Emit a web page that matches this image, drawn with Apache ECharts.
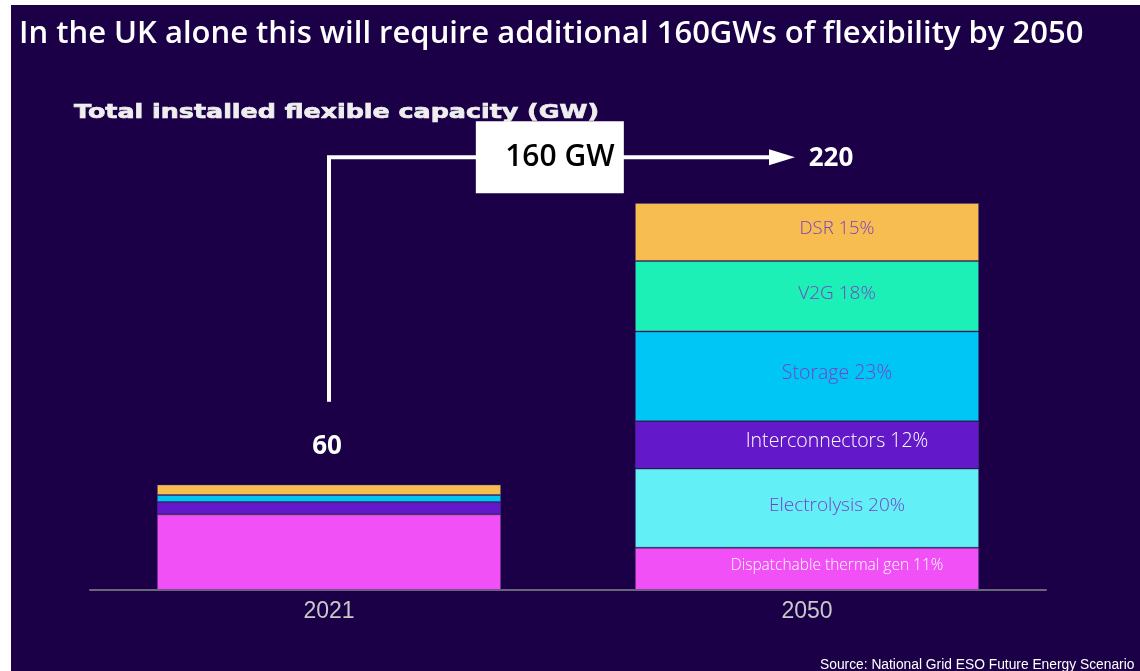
<!DOCTYPE html>
<html>
<head>
<meta charset="utf-8">
<style>
  html, body { margin: 0; padding: 0; background: #ffffff; }
  #chart { width: 1140px; height: 671px; }
</style>
<script src="https://cdn.jsdelivr.net/npm/echarts@6/dist/echarts.min.js"></script>
</head>
<body>
<div id="chart"></div>
<script>
// Flexible capacity in GW by year, stacked by source
const years = ['2021', '2050'];
const sources = ['Dispatchable thermal gen', 'Electrolysis', 'Interconnectors', 'Storage', 'V2G', 'DSR'];
const dispatchable = [43, 24];
const electrolysis = [0, 45];
const interconnectors = [7, 27];
const storage = [4, 51];
const v2g = [0, 40];
const dsr = [6, 33];
const additionalGW = 160;

const seriesValues = [dispatchable, electrolysis, interconnectors, storage, v2g, dsr];
const colors = ['#f050f5', '#62f0f6', '#6319c9', '#00c6f5', '#1cf0b6', '#f7bd50'];
const labelColors = ['#ffffff', '#7a40c4', '#ffffff', '#7a40c4', '#7a40c4', '#7a40c4'];
const labelSizes = [15.5, 19, 19.5, 19.5, 19, 18.5];

const totals = years.map((_, i) => seriesValues.reduce((s, arr) => s + arr[i], 0));

const chart = echarts.init(document.getElementById('chart'));

const series = sources.map((name, k) => ({
  name,
  type: 'bar',
  stack: 'total',
  barWidth: '72%',
  data: seriesValues[k],
  itemStyle: { color: colors[k], borderColor: 'rgba(70,60,110,0.45)', borderWidth: 1 },
  label: {
    show: true,
    position: 'inside',
    offset: [30, -3],
    fontFamily: 'Open Sans',
    fontWeight: 300,
    fontSize: labelSizes[k],
    color: labelColors[k],
    formatter: p => p.dataIndex === 1 && p.value > 0
      ? name + ' ' + Math.round(p.value / totals[1] * 100) + '%'
      : ''
  }
}));

chart.setOption({
  backgroundColor: '#1b0047',
  animation: false,
  title: [
    {
      text: 'In the UK alone this will require additional 160GWs of flexibility by 2050',
      left: 14, top: 14,
      textStyle: { color: '#ffffff', fontFamily: 'Open Sans', fontWeight: 600, fontSize: 31 }
    },
    {
      text: 'Source: National Grid ESO Future Energy Scenario',
      left: 815, top: 653,
      textStyle: { color: '#ffffff', fontFamily: 'Liberation Sans', fontWeight: 'normal', fontSize: 13.8 }
    }
  ],
  grid: { left: 90, right: 94, top: 203, bottom: 81 },
  xAxis: {
    type: 'category',
    data: years,
    axisLine: { lineStyle: { color: '#6a6578', width: 2 } },
    axisTick: { show: false },
    axisLabel: { color: '#c8c8c8', fontFamily: 'Liberation Sans', fontSize: 23, margin: 10 }
  },
  yAxis: {
    type: 'value',
    min: 0,
    max: 220,
    show: false
  },
  series
});

// Growth arrow, total labels and the additional-capacity box, placed on the axes
function px(cat, val) { return chart.convertToPixel({ xAxisIndex: 0, yAxisIndex: 0 }, [cat, val]); }
const p0 = px(years[0], totals[0]);
const p1 = px(years[1], totals[1]);
const lineBottom = px(years[0], 107)[1];
const lineTop = px(years[0], 246)[1];
const arrowEnd = p1[0] - 12;
const boxCx = p0[0] + (p1[0] - p0[0]) * 0.462;

chart.setOption({
  graphic: [
    { type: 'rect', shape: { x: 0, y: 0, width: 11, height: 671 }, style: { fill: '#ffffff' }, z: 100 },
    { type: 'rect', shape: { x: 0, y: 0, width: 1140, height: 5 }, style: { fill: '#ffffff' }, z: 100 },
    {
      // wide, heavy subtitle
      type: 'text',
      x: 74, y: 113, scaleX: 1.3,
      style: {
        text: 'Total installed flexible capacity (GW)', fill: '#eeeeee',
        fontFamily: 'DejaVu Sans', fontWeight: 'bold', fontSize: 19.5,
        stroke: '#eeeeee', lineWidth: 0.7, verticalAlign: 'middle'
      },
      z: 52
    },
    {
      type: 'polyline',
      shape: { points: [[p0[0], lineBottom], [p0[0], lineTop], [arrowEnd - 20, lineTop]] },
      style: { stroke: '#ffffff', lineWidth: 4, fill: null },
      z: 50
    },
    {
      type: 'polygon',
      shape: { points: [[arrowEnd - 26, lineTop - 8], [arrowEnd, lineTop], [arrowEnd - 26, lineTop + 8]] },
      style: { fill: '#ffffff' },
      z: 50
    },
    {
      type: 'rect',
      shape: { x: boxCx - 74, y: lineTop - 36, width: 148, height: 72 },
      style: { fill: '#ffffff' },
      z: 51
    },
    {
      type: 'text',
      x: boxCx + 10, y: lineTop,
      style: {
        text: additionalGW + ' GW', fill: '#000000', fontFamily: 'Open Sans', fontWeight: 600,
        fontSize: 30, align: 'center', verticalAlign: 'middle'
      },
      z: 52
    },
    {
      type: 'text',
      x: p1[0] + 24, y: lineTop + 1,
      style: {
        text: String(totals[1]), fill: '#ffffff', fontFamily: 'Open Sans', fontWeight: 700,
        fontSize: 26, align: 'center', verticalAlign: 'middle'
      },
      z: 52
    },
    {
      type: 'text',
      x: p0[0] - 2, y: p0[1] - 38,
      style: {
        text: String(totals[0]), fill: '#ffffff', fontFamily: 'Open Sans', fontWeight: 700,
        fontSize: 26, align: 'center', verticalAlign: 'middle'
      },
      z: 52
    }
  ]
});
</script>
</body>
</html>
